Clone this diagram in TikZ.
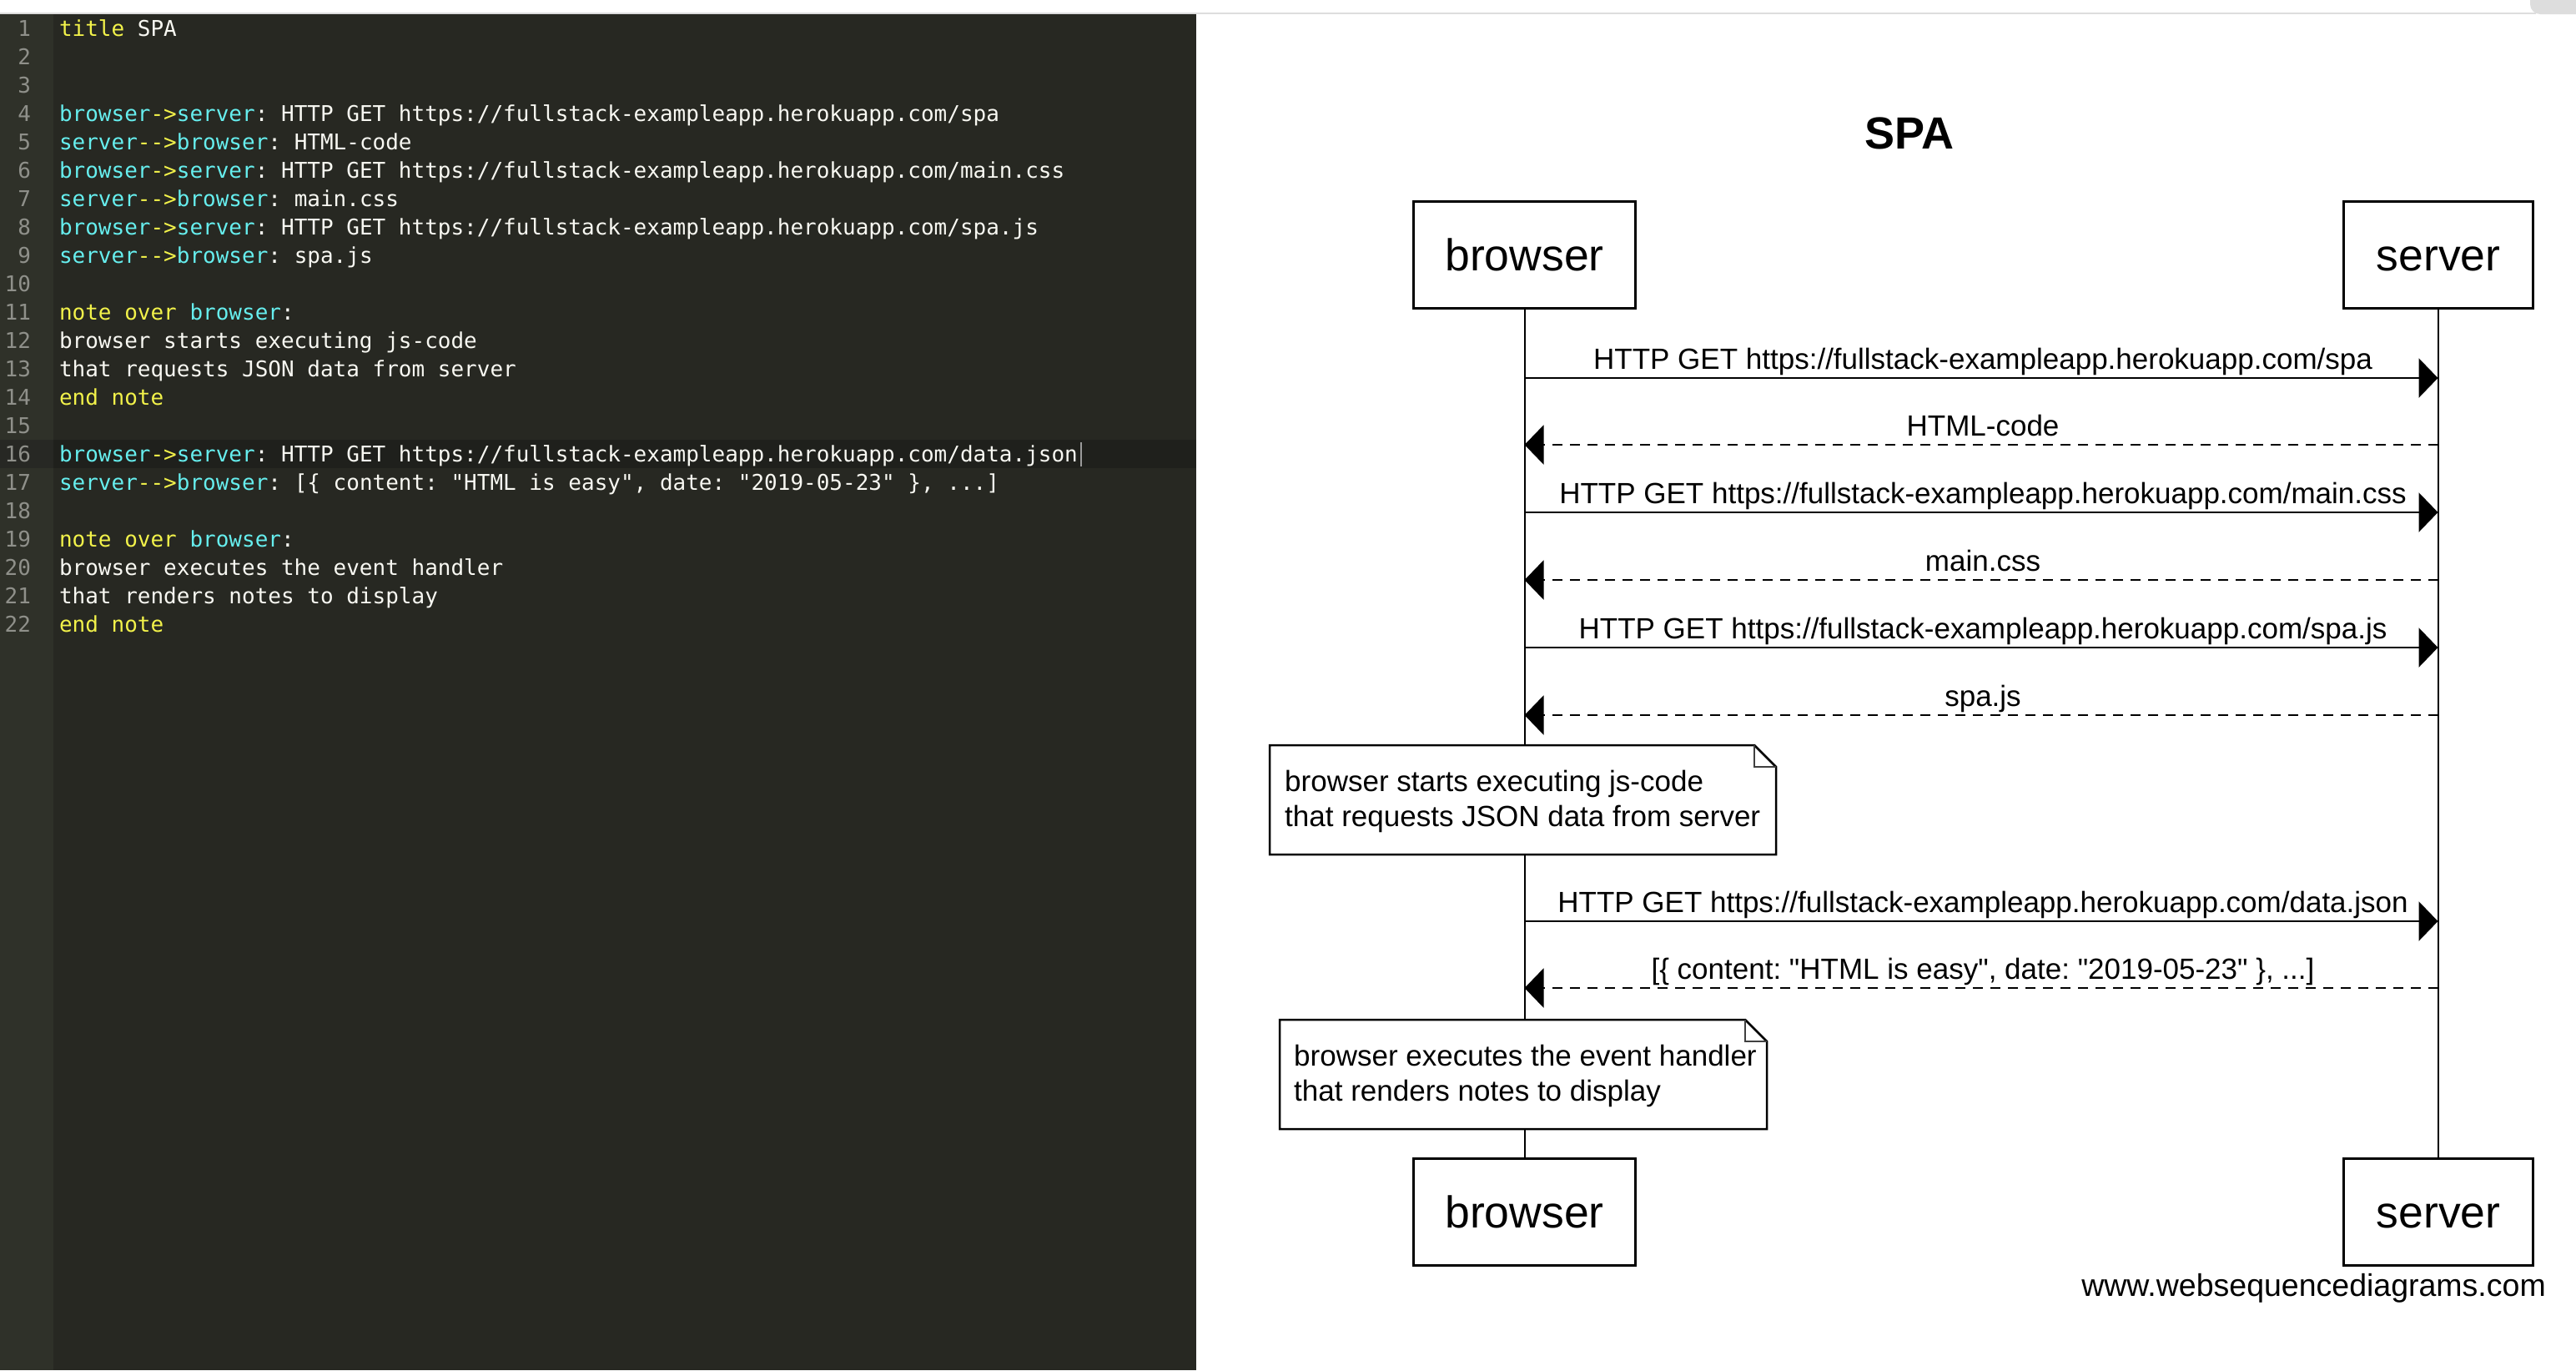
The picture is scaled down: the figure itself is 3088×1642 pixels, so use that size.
\documentclass[tikz,border=0pt]{standalone}
\usepackage{fontspec}
\newfontfamily\diagfont{Liberation Sans}
\newfontfamily\codefont{DejaVu Sans Mono}
\usetikzlibrary{arrows.meta,calc}
\definecolor{edbg}{HTML}{272822}
\definecolor{gutter}{HTML}{2F3129}
\definecolor{hlbg}{HTML}{1F201C}
\definecolor{hlgutter}{HTML}{272824}
\definecolor{lnum}{HTML}{8F908A}
\definecolor{codewhite}{HTML}{F8F8F2}
\definecolor{codecyan}{HTML}{66EEEE}
\definecolor{codeyellow}{HTML}{F2F24A}
\definecolor{topline}{HTML}{DDDDDD}
\definecolor{cursorgray}{HTML}{9A9A9A}
\newcommand\ky[1]{\textcolor{codeyellow}{#1}}
\newcommand\kc[1]{\textcolor{codecyan}{#1}}
\newcommand\darr{-\kern0pt-\kern0pt>}
\frenchspacing
\begin{document}
\frenchspacing
\begin{tikzpicture}[x=1pt,y=-1pt,
  code/.style={anchor=base west, inner sep=0pt, outer sep=0pt, text=codewhite, font=\codefont\frenchspacing\fontsize{26}{34}\selectfont},
  lineno/.style={anchor=base east, inner sep=0pt, outer sep=0pt, text=lnum, font=\codefont\fontsize{26}{34}\selectfont},
  actor/.style={draw=black, line width=3pt, fill=white, inner sep=0pt, minimum height=128pt, font=\diagfont\fontsize{53.5}{60}\selectfont, text height=38.5pt, text depth=0pt},
  lifeline/.style={line width=2pt, draw=black},
  msg/.style={line width=2.5pt, -{Triangle[length=23pt,width=47pt]}},
  reply/.style={msg, dash pattern=on 12pt off 9pt},
  lbl/.style={anchor=base, inner sep=0pt, font=\diagfont\frenchspacing\fontsize{35}{42}\selectfont},
  notearea/.style={inner sep=0pt, outer sep=0pt, minimum height=131pt},
  notebox/.style={draw=black, fill=white, line width=2.5pt, line join=miter},
  notefold/.style={draw=black!75, line width=2.5pt},
  notetext/.style={anchor=base west, inner sep=0pt, font=\diagfont\frenchspacing\fontsize{35}{42}\selectfont},
]
\useasboundingbox (0,0) rectangle (3088,1642);
\fill[white] (0,0) rectangle (3088,1642);
% editor
\fill[edbg] (0,17) rectangle (1434,1642);
\fill[gutter] (0,17) rectangle (64,1642);
\fill[hlgutter] (0,527) rectangle (64,561);
\fill[hlbg] (64,527) rectangle (1434,561);
\fill[topline] (0,15) rectangle (3040,17);
\fill[topline, rounded corners=12pt] (3033,-30) rectangle (3120,17);
\foreach \n in {1,...,22} \node[lineno] (ln\n) at (37,{43+(\n-1)*34}) {\n};
\node[code] (c1) at (71,43) {\ky{title} SPA};
\node[code] (c4) at (71,145) {\kc{browser}\ky{->}\kc{server}: HTTP GET https://fullstack-exampleapp.herokuapp.com/spa};
\node[code] (c5) at (71,179) {\kc{server}\ky{\darr}\kc{browser}: HTML-code};
\node[code] (c6) at (71,213) {\kc{browser}\ky{->}\kc{server}: HTTP GET https://fullstack-exampleapp.herokuapp.com/main.css};
\node[code] (c7) at (71,247) {\kc{server}\ky{\darr}\kc{browser}: main.css};
\node[code] (c8) at (71,281) {\kc{browser}\ky{->}\kc{server}: HTTP GET https://fullstack-exampleapp.herokuapp.com/spa.js};
\node[code] (c9) at (71,315) {\kc{server}\ky{\darr}\kc{browser}: spa.js};
\node[code] (c11) at (71,383) {\ky{note over} \kc{browser}:};
\node[code] (c12) at (71,417) {browser starts executing js-code};
\node[code] (c13) at (71,451) {that requests JSON data from server};
\node[code] (c14) at (71,485) {\ky{end note}};
\node[code] (c16) at (71,553) {\kc{browser}\ky{->}\kc{server}: HTTP GET https://fullstack-exampleapp.herokuapp.com/data.json};
\node[code] (c17) at (71,587) {\kc{server}\ky{\darr}\kc{browser}: [\{ content: "HTML is easy", date: "2019-05-23" \}, ...]};
\node[code] (c19) at (71,655) {\ky{note over} \kc{browser}:};
\node[code] (c20) at (71,689) {browser executes the event handler};
\node[code] (c21) at (71,723) {that renders notes to display};
\node[code] (c22) at (71,757) {\ky{end note}};
\coordinate (cur1) at (1296,530);
\coordinate (cur2) at (1296,559);
\draw[cursorgray, line width=2pt] (cur1) -- (cur2);
% diagram
\node[anchor=base, inner sep=0pt, font=\diagfont\bfseries\fontsize{54}{60}\selectfont] (title) at (2289,178) {SPA};
\node[actor, minimum width=266pt] (b1) at (1827.5,305.5) {browser};
\node[actor, minimum width=227pt] (s1) at (2923,305.5) {server};
\node[actor, minimum width=266pt] (b2) at (1827.5,1452) {browser};
\node[actor, minimum width=227pt] (s2) at (2923,1452) {server};
\draw[lifeline] (b1.south) -- (b2.north);
\draw[lifeline] (s1.south) -- (s2.north);
% messages
\foreach \i/\y in {1/453,2/533,3/614,4/695,5/776,6/857,7/1104,8/1184} {
  \coordinate (mb\i) at (1827.5,\y);
  \coordinate (ms\i) at (2922.5,\y);
}
\draw[msg] (mb1) -- (ms1);
\draw[reply] (ms2) -- (mb2);
\draw[msg] (mb3) -- (ms3);
\draw[reply] (ms4) -- (mb4);
\draw[msg] (mb5) -- (ms5);
\draw[reply] (ms6) -- (mb6);
\draw[msg] (mb7) -- (ms7);
\draw[reply] (ms8) -- (mb8);
\node[lbl] (l1) at (2377,442) {HTTP GET https://fullstack-exampleapp.herokuapp.com/spa};
\node[lbl] (l2) at (2377,522) {HTML-code};
\node[lbl] (l3) at (2377,603) {HTTP GET https://fullstack-exampleapp.herokuapp.com/main.css};
\node[lbl] (l4) at (2377,684) {main.css};
\node[lbl] (l5) at (2377,765) {HTTP GET https://fullstack-exampleapp.herokuapp.com/spa.js};
\node[lbl] (l6) at (2377,846) {spa.js};
\node[lbl] (l7) at (2377,1093) {HTTP GET https://fullstack-exampleapp.herokuapp.com/data.json};
\node[lbl] (l8) at (2377,1173) {[\{ content: "HTML is easy", date: "2019-05-23" \}, ...]};
% notes
\node[notearea, minimum width=607pt] (n1) at (1825.5,958.5) {};
\filldraw[notebox] (n1.north west) -- ($(n1.north east)+(-26,0)$) -- ($(n1.north east)+(0,26)$) -- (n1.south east) -- (n1.south west) -- cycle;
\draw[notefold] ($(n1.north east)+(-26,0)$) |- ($(n1.north east)+(0,26)$);
\node[notetext] (n1a) at (1540,948) {browser starts executing js-code};
\node[notetext] (n1b) at (1540,990) {that requests JSON data from server};
\node[notearea, minimum width=584pt] (n2) at (1826,1287.5) {};
\filldraw[notebox] (n2.north west) -- ($(n2.north east)+(-26,0)$) -- ($(n2.north east)+(0,26)$) -- (n2.south east) -- (n2.south west) -- cycle;
\draw[notefold] ($(n2.north east)+(-26,0)$) |- ($(n2.north east)+(0,26)$);
\node[notetext] (n2a) at (1551,1277) {browser executes the event handler};
\node[notetext] (n2b) at (1551,1319) {that renders notes to display};
\node[anchor=base east, inner sep=0pt, font=\diagfont\fontsize{37.5}{45}\selectfont] (wm) at (3052,1553) {www.websequencediagrams.com};
\end{tikzpicture}
\end{document}
